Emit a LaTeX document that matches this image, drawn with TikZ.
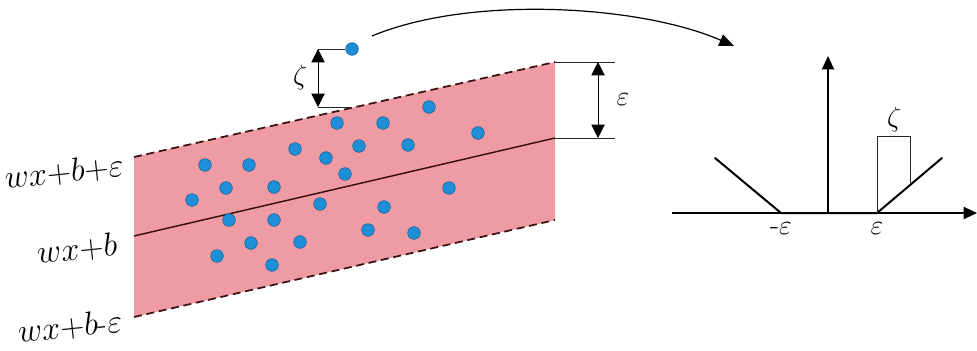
\documentclass[tikz,border=0pt]{standalone}
\usepackage{amsmath,amssymb}
\usepackage{tikz}
\usetikzlibrary{arrows.meta,positioning,calc}
\usepackage{xcolor}
\definecolor{BandPink}{HTML}{EE9BA3}
\definecolor{DotBlue}{HTML}{1E8FD6}
\definecolor{DotEdge}{HTML}{1A5F99}
\definecolor{LineDark}{HTML}{3A1010}
\tikzset{
  lbl/.style={font=\fontsize{22}{26}\selectfont, inner sep=1pt},
  sidelbl/.style={font=\fontsize{23}{27}\selectfont, inner sep=0pt, rotate=6},
  dot/.style={circle, fill=DotBlue, draw=DotEdge, line width=0.4pt,
    inner sep=0pt, minimum size=9.5pt},
  bandedge/.style={dash pattern=on 6pt off 3.5pt, line width=1.3pt, color=LineDark},
  thinline/.style={line width=0.75pt, color=black!85},
  dimarr/.style={{Triangle[length=10pt,width=10pt]}-{Triangle[length=10pt,width=10pt]},
    line width=0.75pt},
  axisarr/.style={-{Triangle[length=10pt,width=9pt]}, line width=1.5pt},
  lossline/.style={line width=1.5pt, line cap=round},
}
\newcommand{\tightm}[1]{$\medmuskip=0mu #1$}

\begin{document}
\begin{tikzpicture}[x=0.75pt,y=-0.75pt]
  \useasboundingbox (0,0) rectangle (977,350);

  % the tube around the regression line
  \coordinate (ul) at (134,157);
  \coordinate (ur) at (555,62);
  \coordinate (lr) at (555,220);
  \coordinate (ll) at (134,317);
  \coordinate (cl) at (134,236);
  \coordinate (cr) at (555,138);
  \fill[BandPink] (ul) -- (ur) -- (lr) -- (ll) -- cycle;
  \draw[bandedge] (ul) -- (ur);
  \draw[bandedge] (ll) -- (lr);
  \draw[line width=1.1pt, LineDark] (cl) -- (cr);

  \node[sidelbl] (upper) at (64,172) {\tightm{wx+b+\varepsilon}};
  \node[sidelbl] (mid)   at (77,249) {\tightm{wx+b}};
  \node[sidelbl] (lower) at (70,327) {\tightm{wx+b\text{-}\varepsilon}};

  % samples
  \foreach \px/\py [count=\i] in {205/165, 249/165, 295/149, 326/158, 337/123,
      383/123, 429/107, 478/133, 359/146, 408/145, 345/174, 226/188, 274/187,
      192/200, 449/188, 229/220, 274/220, 320/204, 384/207, 368/230, 414/233,
      251/243, 300/242, 217/256, 272/265}
    \node[dot] (s\i) at (\px,\py) {};
  \node[dot] (out) at (352,49) {};

  % epsilon width
  \coordinate (et) at (598,62);
  \coordinate (eb) at (598,138);
  \draw[thinline] (ur) -- (615,62);
  \draw[thinline] (cr) -- (615,138);
  \draw[dimarr] (et) -- (eb);
  \node[lbl] (eps) at (623,100) {$\varepsilon$};

  % slack of the outlier
  \coordinate (zt) at (318,49);
  \coordinate (zb) at (318,107);
  \draw[thinline] (zt) -- (out);
  \draw[thinline] (zb) -- (350,107);
  \draw[dimarr] (zt) -- (zb);
  \node[lbl] (zeta) at (300,78) {$\zeta$};

  % to the loss
  \coordinate (cs) at (372,36);
  \coordinate (ce) at (734,46);
  \draw[-{Triangle[length=11pt,width=9pt]}, line width=0.9pt]
    (cs) .. controls (470,-5) and (640,5) .. (ce);

  % epsilon-insensitive loss
  \coordinate (xa) at (672,213);
  \coordinate (xb) at (977,213);
  \coordinate (o)  at (828,213);
  \coordinate (yb) at (828,56);
  \coordinate (me) at (781,213);
  \coordinate (pe) at (877,213);
  \draw[axisarr] (xa) -- (xb);
  \draw[axisarr] (o) -- (yb);
  \draw[lossline] (715,158) -- (me) -- (pe) -- (942,158);
  \draw[thinline] (pe) -- (877,136) -- (910,136) -- (910,183);
  \node[lbl] (zeta2) at (894,120) {$\zeta$};
  \node[lbl, below=6pt of me] (mlab) {\text{-}$\varepsilon$};
  \node[lbl, below=6pt of pe] (plab) {$\varepsilon$};
\end{tikzpicture}
\end{document}
